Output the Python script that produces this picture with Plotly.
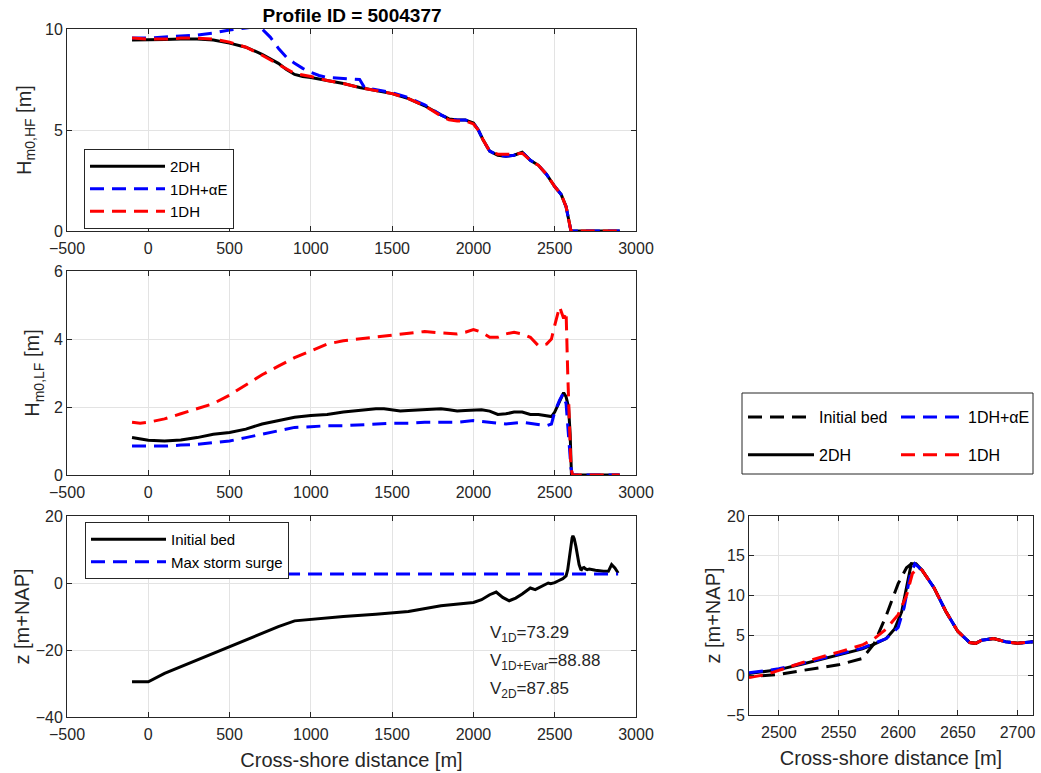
import plotly.graph_objects as go

# ---------------- data ----------------
# Top panel: Hm0,HF
hf_2dh_x = [-100, 0, 100, 200, 300, 400, 500, 600, 700, 800, 850, 900, 950, 1000, 1100, 1200, 1300, 1400, 1500, 1600, 1700, 1800, 1850, 1900, 1950, 2000, 2030, 2060, 2100, 2150, 2200, 2250, 2280, 2300, 2320, 2350, 2400, 2450, 2500, 2540, 2570, 2590, 2600, 2700, 2800, 2900]
hf_2dh_y = [9.45, 9.45, 9.48, 9.5, 9.5, 9.45, 9.3, 9.1, 8.75, 8.3, 8.0, 7.75, 7.65, 7.6, 7.45, 7.3, 7.1, 6.95, 6.8, 6.55, 6.2, 5.75, 5.55, 5.5, 5.5, 5.35, 5.0, 4.5, 3.95, 3.75, 3.7, 3.75, 3.85, 3.9, 3.75, 3.5, 3.25, 2.8, 2.2, 1.8, 1.2, 0.3, 0, 0, 0, 0]

hf_ae_x = [-100, 0, 100, 200, 300, 400, 500, 600, 650, 700, 750, 800, 850, 900, 950, 1000, 1050, 1100, 1200, 1300, 1330, 1400, 1500, 1600, 1700, 1800, 1850, 1900, 1950, 2000, 2030, 2060, 2100, 2150, 2200, 2250, 2280, 2300, 2320, 2350, 2400, 2450, 2500, 2540, 2570, 2590, 2600, 2700, 2800, 2900]
hf_ae_y = [9.55, 9.55, 9.6, 9.65, 9.7, 9.8, 9.95, 10.05, 10.1, 10.0, 9.6, 9.05, 8.6, 8.3, 8.05, 7.85, 7.7, 7.6, 7.55, 7.5, 7.1, 7.0, 6.85, 6.6, 6.25, 5.75, 5.55, 5.5, 5.5, 5.35, 5.0, 4.5, 3.95, 3.75, 3.7, 3.75, 3.85, 3.9, 3.75, 3.5, 3.25, 2.8, 2.2, 1.8, 1.2, 0.3, 0, 0, 0, 0]

hf_1dh_x = [-100, 0, 100, 200, 300, 400, 500, 600, 700, 800, 900, 1000, 1100, 1200, 1300, 1400, 1500, 1600, 1700, 1800, 1850, 1900, 1950, 2000, 2030, 2060, 2100, 2150, 2200, 2250, 2300, 2350, 2400, 2450, 2500, 2540, 2570, 2590, 2600, 2700, 2800, 2900]
hf_1dh_y = [9.55, 9.5, 9.5, 9.55, 9.55, 9.5, 9.35, 9.1, 8.7, 8.25, 7.8, 7.65, 7.45, 7.3, 7.1, 6.95, 6.8, 6.55, 6.2, 5.7, 5.5, 5.45, 5.45, 5.3, 5.0, 4.5, 3.95, 3.8, 3.8, 3.8, 3.85, 3.5, 3.25, 2.8, 2.2, 1.8, 1.2, 0.3, 0, 0, 0, 0]

# Middle panel: Hm0,LF
lf_2dh_x = [-100, -50, 0, 100, 200, 300, 400, 500, 600, 700, 800, 900, 1000, 1100, 1200, 1300, 1400, 1450, 1500, 1550, 1600, 1700, 1800, 1850, 1900, 1950, 2000, 2050, 2100, 2150, 2200, 2250, 2300, 2350, 2400, 2450, 2480, 2500, 2530, 2555, 2570, 2585, 2595, 2603, 2700, 2800, 2900]
lf_2dh_y = [1.1, 1.05, 1.02, 1.0, 1.03, 1.1, 1.2, 1.25, 1.35, 1.5, 1.6, 1.7, 1.75, 1.78, 1.85, 1.9, 1.95, 1.95, 1.92, 1.88, 1.9, 1.92, 1.95, 1.92, 1.88, 1.9, 1.92, 1.92, 1.88, 1.78, 1.8, 1.85, 1.85, 1.78, 1.78, 1.75, 1.72, 1.85, 2.15, 2.42, 2.3, 2.0, 1.2, 0, 0, 0, 0]

lf_ae_x = [-100, 0, 100, 200, 300, 400, 500, 600, 700, 800, 900, 1000, 1100, 1200, 1300, 1400, 1500, 1600, 1700, 1800, 1900, 2000, 2100, 2200, 2300, 2400, 2450, 2480, 2500, 2530, 2550, 2570, 2585, 2600, 2610, 2700, 2800, 2900]
lf_ae_y = [0.85, 0.85, 0.85, 0.88, 0.9, 0.95, 1.0, 1.1, 1.2, 1.3, 1.4, 1.42, 1.45, 1.45, 1.48, 1.5, 1.52, 1.52, 1.55, 1.55, 1.55, 1.6, 1.55, 1.5, 1.55, 1.48, 1.45, 1.5, 1.85, 2.2, 2.38, 2.1, 1.2, 0.2, 0, 0, 0, 0]

lf_1dh_x = [-100, -50, 0, 50, 100, 200, 300, 400, 500, 600, 700, 800, 900, 1000, 1100, 1200, 1300, 1400, 1500, 1600, 1700, 1800, 1900, 1950, 2000, 2050, 2100, 2150, 2200, 2250, 2300, 2350, 2400, 2450, 2480, 2500, 2530, 2555, 2570, 2580, 2590, 2600, 2610, 2700, 2800, 2900]
lf_1dh_y = [1.55, 1.52, 1.55, 1.6, 1.65, 1.8, 1.95, 2.1, 2.35, 2.65, 2.95, 3.2, 3.45, 3.65, 3.85, 3.95, 4.0, 4.05, 4.12, 4.15, 4.22, 4.18, 4.15, 4.2, 4.28, 4.2, 4.05, 4.05, 4.15, 4.2, 4.15, 4.05, 3.8, 3.85, 4.0, 4.4, 4.95, 4.6, 4.8, 3.0, 1.2, 0.2, 0, 0, 0, 0]

# Bottom panel: initial bed and storm surge (also used in the zoomed panel)
bed_x = [-100, 0, 100, 200, 300, 400, 500, 600, 700, 800, 900, 1000, 1200, 1400, 1600, 1800, 1900, 2000, 2050, 2100, 2140, 2180, 2220, 2260, 2300, 2350, 2380, 2420, 2460, 2475, 2500, 2520, 2550, 2570, 2580, 2590, 2600, 2607, 2612, 2620, 2630, 2640, 2650, 2660, 2665, 2670, 2680, 2690, 2700, 2713, 2750, 2800, 2830, 2850, 2870, 2890]
bed_y = [-29.5, -29.5, -27, -25, -23, -21, -19, -17, -15, -13, -11.3, -10.8, -10, -9.3, -8.5, -6.8, -6.3, -5.8, -5, -3.5, -2.7, -4.3, -5.3, -4.5, -3.3, -1.5, -2, -1, 0, -0.2, 0.1, 0.6, 1.3, 2.1, 4.0, 7.5, 11.5, 13.5, 14.1, 13.2, 11, 8, 5.5, 4.1, 4.0, 4.4, 4.6, 4.2, 4.0, 4.2, 3.8, 3.5, 3.5, 5.5, 4.5, 3.0]
surge_x = [-100, 2890]
surge_y = [2.7, 2.7]

# Zoomed panel: post-storm profiles
z_2dh_x = [2475, 2500, 2520, 2550, 2570, 2580, 2590, 2597, 2603, 2607, 2611, 2615, 2620, 2630, 2640, 2650, 2660, 2665, 2670, 2680, 2690, 2700, 2713]
z_2dh_y = [0.2, 0.7, 1.4, 2.5, 3.3, 3.9, 4.6, 5.8, 8.0, 11.0, 14.0, 14.0, 13.2, 11.0, 8.0, 5.5, 4.1, 4.0, 4.4, 4.6, 4.2, 4.0, 4.2]
z_ae_x = [2475, 2500, 2520, 2550, 2570, 2580, 2590, 2600, 2605, 2610, 2614, 2620, 2630, 2640, 2650, 2660, 2665, 2670, 2680, 2690, 2700, 2713]
z_ae_y = [0.3, 0.8, 1.5, 2.6, 3.4, 4.0, 4.6, 6.0, 8.5, 12.5, 14.0, 13.2, 11.0, 8.0, 5.5, 4.1, 4.0, 4.4, 4.6, 4.2, 4.0, 4.2]
z_1dh_x = [2475, 2490, 2500, 2520, 2550, 2570, 2580, 2590, 2600, 2607, 2612, 2617, 2620, 2630, 2640, 2650, 2660, 2665, 2670, 2680, 2690, 2700, 2713]
z_1dh_y = [-0.3, 0.1, 0.6, 1.6, 2.9, 3.8, 4.6, 5.8, 7.6, 10.0, 12.8, 13.5, 13.2, 11.0, 8.0, 5.5, 4.1, 4.0, 4.4, 4.6, 4.2, 4.0, 4.2]

volumes = [("1D", "73.29"), ("1D+Evar", "88.88"), ("2D", "87.85")]
x_ticks = [-500, 0, 500, 1000, 1500, 2000, 2500, 3000]

# ---------------- figure ----------------
FONT = "Liberation Sans, Arial, sans-serif"
AX = "#262626"
GRID = "#e3e3e3"
BLACK, BLUE, RED = "#000000", "#0000ff", "#ff0000"
DASH = "14px,8px"
W = 3

fig = go.Figure()

def tr(x, y, name, color, dash, xa, ya, legend, show=True):
    fig.add_trace(go.Scatter(
        x=x, y=y, mode="lines", name=name,
        line=dict(color=color, width=W, dash=dash),
        xaxis=xa, yaxis=ya, legend=legend, showlegend=show,
        legendgroup=name + xa, hoverinfo="skip"))

# top panel
tr(hf_2dh_x, hf_2dh_y, "2DH", BLACK, "solid", "x", "y", "legend")
tr(hf_ae_x, hf_ae_y, "1DH+\u03b1E", BLUE, DASH, "x", "y", "legend")
tr(hf_1dh_x, hf_1dh_y, "1DH", RED, DASH, "x", "y", "legend")
# middle panel
tr(lf_2dh_x, lf_2dh_y, "2DH", BLACK, "solid", "x2", "y2", "legend", show=False)
tr(lf_ae_x, lf_ae_y, "1DH+\u03b1E", BLUE, DASH, "x2", "y2", "legend", show=False)
tr(lf_1dh_x, lf_1dh_y, "1DH", RED, DASH, "x2", "y2", "legend", show=False)
# bottom panel
tr(bed_x, bed_y, "Initial bed", BLACK, "solid", "x3", "y3", "legend2")
tr(surge_x, surge_y, "Max storm surge", BLUE, DASH, "x3", "y3", "legend2")
# zoom panel
tr(bed_x, bed_y, "Initial bed", BLACK, DASH, "x4", "y4", "legend3")
tr(z_2dh_x, z_2dh_y, "2DH", BLACK, "solid", "x4", "y4", "legend3")
tr(z_ae_x, z_ae_y, "1DH+\u03b1E", BLUE, DASH, "x4", "y4", "legend4")
tr(z_1dh_x, z_1dh_y, "1DH", RED, DASH, "x4", "y4", "legend4")

def axstyle(**kw):
    d = dict(showline=True, linecolor=AX, linewidth=1, mirror="ticks",
             ticks="inside", ticklen=5, tickcolor=AX, tickwidth=1,
             showgrid=True, gridcolor=GRID, gridwidth=1, zeroline=False,
             automargin=False,
             tickfont=dict(family=FONT, size=16, color=AX),
             title_font=dict(family=FONT, size=20, color=AX))
    d.update(kw)
    return d

xl = [67 / 1041, 636 / 1041]
xr = [749 / 1041, 1033 / 1041]

fig.update_layout(
    width=1041, height=773,
    margin=dict(l=0, r=0, t=0, b=0, autoexpand=False),
    paper_bgcolor="white", plot_bgcolor="white",
    font=dict(family=FONT, size=16, color=AX),
    title=dict(text="<b>Profile ID = 5004377</b>", x=352 / 1041, y=1 - 15 / 773,
               xanchor="center", yanchor="middle", automargin=False,
               font=dict(family=FONT, size=19, color="#000000")),
    xaxis=axstyle(domain=xl, range=[-500, 3000], tickvals=x_ticks, anchor="y", ticklabelstandoff=3),
    yaxis=axstyle(domain=[1 - 231 / 773, 1 - 29 / 773], range=[0, 10], tickvals=[0, 5, 10],
                  title=dict(text="H<sub>m0,HF</sub> [m]", standoff=8), anchor="x"),
    xaxis2=axstyle(domain=xl, range=[-500, 3000], tickvals=x_ticks, anchor="y2", ticklabelstandoff=3),
    yaxis2=axstyle(domain=[1 - 475 / 773, 1 - 271 / 773], range=[0, 6], tickvals=[0, 2, 4, 6],
                   title=dict(text="H<sub>m0,LF</sub> [m]", standoff=8), anchor="x2"),
    xaxis3=axstyle(domain=xl, range=[-500, 3000], tickvals=x_ticks, anchor="y3", ticklabelstandoff=3,
                   title=dict(text="Cross-shore distance [m]", standoff=10)),
    yaxis3=axstyle(domain=[1 - 717 / 773, 1 - 516 / 773], range=[-40, 20], tickvals=[-40, -20, 0, 20],
                   title=dict(text="z [m+NAP]", standoff=0), anchor="x3"),
    xaxis4=axstyle(domain=xr, range=[2475, 2713], tickvals=[2500, 2550, 2600, 2650, 2700], anchor="y4",
                   ticklabelstandoff=3, title=dict(text="Cross-shore distance [m]", standoff=10)),
    yaxis4=axstyle(domain=[1 - 715 / 773, 1 - 516 / 773], range=[-5, 20], tickvals=[-5, 0, 5, 10, 15, 20],
                   title=dict(text="z [m+NAP]", standoff=0), anchor="x4"),
)

legfont = dict(family=FONT, size=15, color="#000000")
fig.update_layout(
    legend=dict(x=84 / 1041, y=1 - 149 / 773, xanchor="left", yanchor="top",
                bordercolor=AX, borderwidth=1, bgcolor="white", font=legfont,
                tracegroupgap=0, itemwidth=75),
    legend2=dict(x=85 / 1041, y=1 - 522 / 773, xanchor="left", yanchor="top",
                 bordercolor=AX, borderwidth=1, bgcolor="white", font=legfont,
                 tracegroupgap=0, itemwidth=75),
    legend3=dict(x=743 / 1041, y=1 - 400 / 773, xanchor="left", yanchor="top",
                 borderwidth=0, bgcolor="rgba(0,0,0,0)", font=dict(family=FONT, size=16, color="#000000"),
                 tracegroupgap=14, itemwidth=66),
    legend4=dict(x=896 / 1041, y=1 - 400 / 773, xanchor="left", yanchor="top",
                 borderwidth=0, bgcolor="rgba(0,0,0,0)", font=dict(family=FONT, size=16, color="#000000"),
                 tracegroupgap=14, itemwidth=62),
)

# box around the two-column legend of the zoomed panel
fig.add_shape(type="rect", xref="paper", yref="paper",
              x0=742 / 1041, x1=1033 / 1041, y0=1 - 474 / 773, y1=1 - 393 / 773,
              line=dict(color=AX, width=1), fillcolor="rgba(0,0,0,0)", layer="below")

# volume annotations
for i, (sub, val) in enumerate(volumes):
    fig.add_annotation(xref="paper", yref="paper", x=488 / 1041, y=1 - (634 + 28 * i) / 773,
                       xanchor="left", yanchor="middle", showarrow=False,
                       text=f"V<sub>{sub}</sub>={val}",
                       font=dict(family=FONT, size=17, color=AX))

fig.write_html("out.html")
